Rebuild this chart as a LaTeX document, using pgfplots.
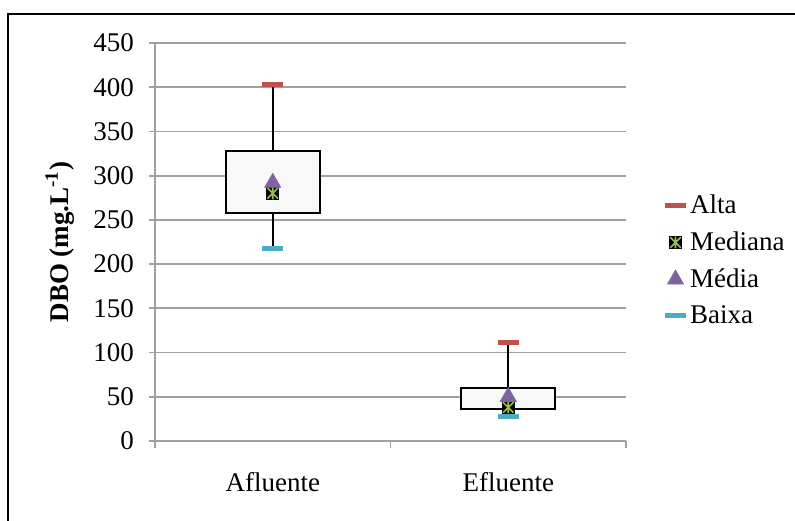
\documentclass[border=0pt]{standalone}
\usepackage{fontspec}
\setmainfont{Liberation Serif}
\usepackage{pgfplots}
\pgfplotsset{compat=1.18}

\definecolor{altared}{HTML}{C0504D}
\definecolor{baixateal}{HTML}{4BACC6}
\definecolor{mediapurple}{HTML}{8064A2}
\definecolor{medgreen}{HTML}{9BBB59}
\definecolor{gridgray}{HTML}{A0A0A0}
\definecolor{boxfill}{HTML}{F8F8F8}

% black square with a green star on top (median marker)
\pgfdeclareplotmark{sqstar}{%
  \pgfpathrectangle{\pgfpoint{-\pgfplotmarksize}{-\pgfplotmarksize}}{\pgfpoint{2\pgfplotmarksize}{2\pgfplotmarksize}}%
  \pgfsetfillcolor{black}\pgfusepath{fill}%
  \pgfsetstrokecolor{medgreen}\pgfsetlinewidth{0.8pt}%
  \pgfpathmoveto{\pgfpoint{-0.8\pgfplotmarksize}{-0.8\pgfplotmarksize}}\pgfpathlineto{\pgfpoint{0.8\pgfplotmarksize}{0.8\pgfplotmarksize}}%
  \pgfpathmoveto{\pgfpoint{-0.8\pgfplotmarksize}{0.8\pgfplotmarksize}}\pgfpathlineto{\pgfpoint{0.8\pgfplotmarksize}{-0.8\pgfplotmarksize}}%
  \pgfpathmoveto{\pgfpoint{0pt}{-0.9\pgfplotmarksize}}\pgfpathlineto{\pgfpoint{0pt}{0.9\pgfplotmarksize}}%
  \pgfusepath{stroke}}

\newcommand{\chartfont}{\fontsize{13.5}{16}\selectfont}

\begin{document}
\begin{tikzpicture}
\path[use as bounding box] (0,0) rectangle (397.5pt,260pt);
\draw[line width=1pt] (4pt,-5pt) -- (4pt,253pt) -- (405pt,253pt);
\begin{axis}[
  at={(77.5pt,39.5pt)}, anchor=south west,
  scale only axis, width=235.5pt, height=199pt,
  xmin=-0.5, xmax=1.5, ymin=0, ymax=450,
  ytick={0,50,...,450},
  xtick={0,1}, xticklabels={Afluente,Efluente},
  minor xtick={-0.5,0.5,1.5},
  axis x line*=bottom, axis y line*=left,
  axis line style={gridgray, line width=0.9pt, -},
  tick align=outside,
  major tick length=3pt, minor tick length=3.5pt,
  every tick/.style={gridgray, line width=0.9pt},
  major x tick style={draw=none},
  ymajorgrids, grid style={gridgray, line width=0.9pt},
  /pgf/number format/assume math mode=true,
  tick label style={font=\chartfont},
  yticklabel style={xshift=-4pt},
  xticklabel style={yshift=-9pt},
  ylabel={\textbf{DBO (mg.L\textsuperscript{-1})}},
  every axis y label/.style={at={(axis description cs:-0.202,0.5)}, rotate=90, anchor=center, font=\chartfont},
  legend style={at={(1.082,0.4535)}, anchor=west, draw=none, fill=none,
    font=\chartfont, row sep=3.6pt, inner sep=0pt,
    /tikz/every even column/.append style={column sep=0.5pt}},
  legend cell align=left,
  clip=false,
]
% whiskers (high to low)
\addplot[black, line width=0.8pt, forget plot] coordinates {(0,403) (0,218)};
\addplot[black, line width=0.8pt, forget plot] coordinates {(1,112) (1,27.5)};
% boxes (lower to upper quartile)
\addplot[draw=black, fill=boxfill, line width=1pt, forget plot] coordinates {(-0.2,258) (0.2,258) (0.2,328) (-0.2,328)} -- cycle;
\addplot[draw=black, fill=boxfill, line width=1pt, forget plot] coordinates {(0.8,36.2) (1.2,36.2) (1.2,60.3) (0.8,60.3)} -- cycle;
% markers
\addplot[only marks, mark=-, mark size=5.25pt, mark options={altared, line width=2.5pt}] coordinates {(0,403) (1,111.6)};
\addlegendentry{Alta}
\addplot[only marks, mark=sqstar, mark size=3.3pt] coordinates {(0,280) (1,38)};
\addlegendentry{Mediana}
\addplot[only marks, mark=triangle*, mark size=4.6pt, mark options={fill=mediapurple, draw=mediapurple}] coordinates {(0,292) (1,50)};
\addlegendentry{Média}
\addplot[only marks, mark=-, mark size=5.25pt, mark options={baixateal, line width=2.5pt}] coordinates {(0,218) (1,27.5)};
\addlegendentry{Baixa}
\end{axis}
\end{tikzpicture}
\end{document}
